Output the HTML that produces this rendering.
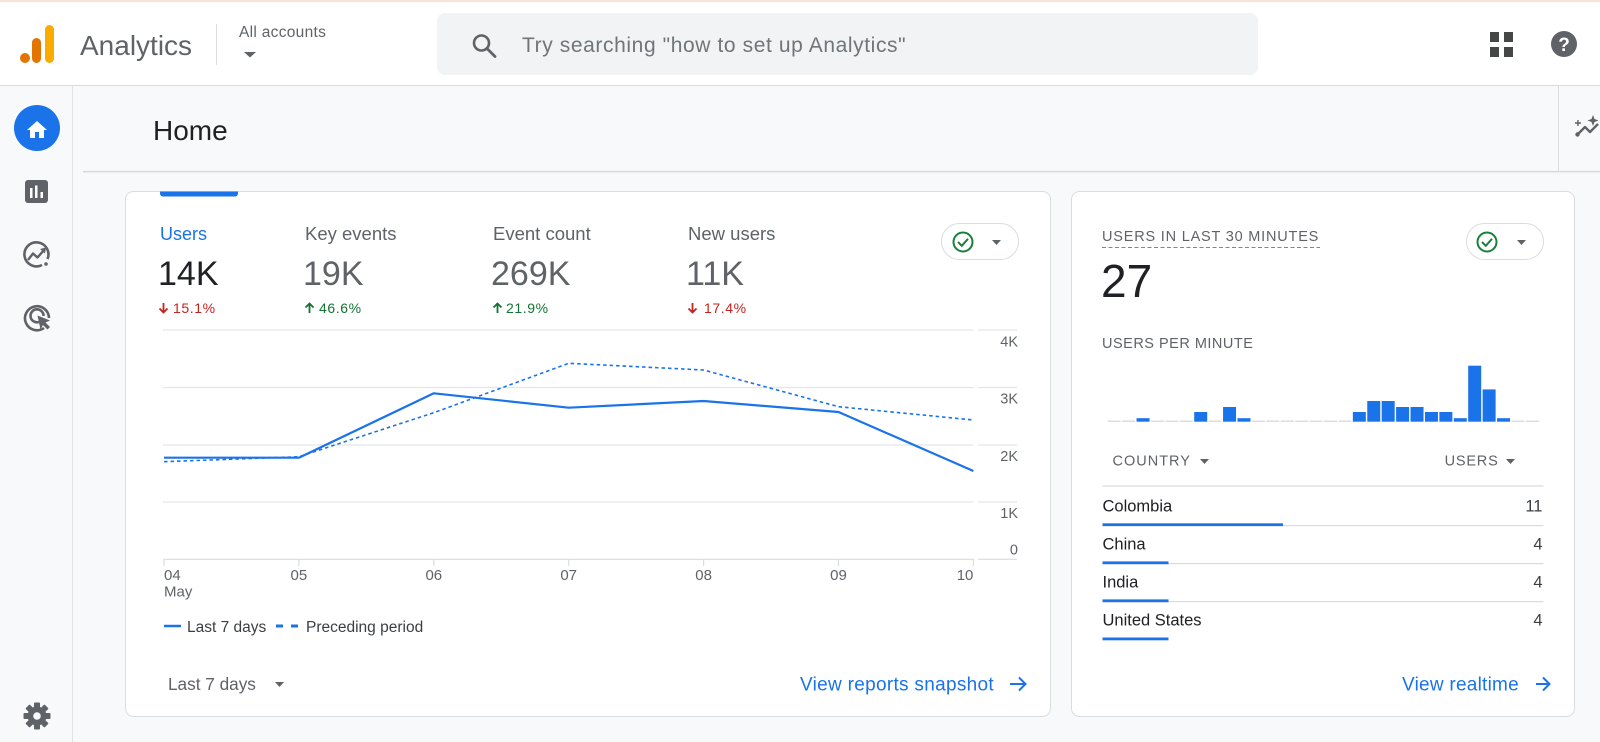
<!DOCTYPE html>
<html>
<head>
<meta charset="utf-8">
<style>
  html,body{margin:0;padding:0;background:#f8f9fa;}
  body{width:1600px;height:742px;overflow:hidden;position:relative;}
  svg{position:absolute;left:0;top:0;}
  text{font-family:"Liberation Sans", Arial, sans-serif;}
</style>
</head>
<body>
<svg width="1600" height="742" viewBox="0 0 1600 742" xmlns="http://www.w3.org/2000/svg">
  <!-- backgrounds -->
  <rect x="0" y="0" width="1600" height="742" fill="#f8f9fa"/>
  <rect x="0" y="0" width="1600" height="85.5" fill="#ffffff"/>
  <rect x="0" y="0" width="1600" height="2" fill="#fbe3da"/>
  <line x1="0" y1="85.5" x2="1600" y2="85.5" stroke="#dadce0" stroke-width="1"/>

  <!-- logo -->
  <circle cx="25" cy="58" r="5" fill="#e37400"/>
  <rect x="32" y="38" width="9" height="25" rx="4.5" fill="#e37400"/>
  <rect x="45" y="25" width="9" height="38" rx="4.5" fill="#f9ab00"/>
  <text x="80" y="55" font-size="28" fill="#5f6368">Analytics</text>
  <line x1="216.5" y1="24" x2="216.5" y2="65" stroke="#dadce0" stroke-width="1"/>
  <text x="239" y="37" font-size="15.5" fill="#5f6368" letter-spacing="0.3">All accounts</text>
  <polygon points="244,52 256,52 250,57.5" fill="#5f6368"/>

  <!-- search -->
  <rect x="437" y="13" width="821" height="62" rx="8" fill="#f1f3f4"/>
  <circle cx="481.5" cy="43" r="7.5" fill="none" stroke="#5f6368" stroke-width="2.6"/>
  <line x1="487" y1="48.5" x2="495" y2="56.5" stroke="#5f6368" stroke-width="2.8" stroke-linecap="round"/>
  <text x="522" y="52" font-size="21" fill="#70757a" letter-spacing="0.6">Try searching "how to set up Analytics"</text>

  <!-- header right icons -->
  <rect x="1490" y="32" width="9" height="10" fill="#444746"/>
  <rect x="1504" y="32" width="9" height="10" fill="#444746"/>
  <rect x="1490" y="47" width="9" height="10" fill="#444746"/>
  <rect x="1504" y="47" width="9" height="10" fill="#444746"/>
  <circle cx="1564" cy="44" r="13" fill="#5f6368"/>
  <text x="1564" y="51" font-size="19" font-weight="bold" fill="#ffffff" text-anchor="middle">?</text>

  <!-- sidebar -->
  <line x1="72.5" y1="86" x2="72.5" y2="742" stroke="#e0e2e5" stroke-width="1"/>
  <circle cx="37" cy="128" r="23" fill="#1a73e8"/>
  <path transform="translate(25,118)" d="M10 20v-6h4v6h5v-8h3L12 3 2 12h3v8z" fill="#ffffff"/>
  <!-- reports -->
  <rect x="25" y="180" width="23" height="23" rx="3" fill="#5f6368"/>
  <rect x="30" y="188" width="2.5" height="10" fill="#fff"/>
  <rect x="35" y="185.5" width="2.5" height="12.5" fill="#fff"/>
  <rect x="40.5" y="192" width="2.5" height="6" fill="#fff"/>
  <!-- explore -->
  <path d="M47.5 259 A12 12 0 1 0 42 265" fill="none" stroke="#5f6368" stroke-width="2.6"/>
  <circle cx="46" cy="264" r="1.8" fill="#5f6368"/>
  <polyline points="28,260 33,253.5 37.5,257.5 44,250" fill="none" stroke="#5f6368" stroke-width="2.4" stroke-linejoin="round"/>
  <polygon points="40,249 46,247.5 45,253.5" fill="#5f6368"/>
  <!-- advertising -->
  <path d="M44 328 A12 12 0 1 1 49 318" fill="none" stroke="#5f6368" stroke-width="2.6"/>
  <path d="M39 322 A6.5 6.5 0 1 1 43.5 316" fill="none" stroke="#5f6368" stroke-width="2.6"/>
  <polygon points="37.5,315.5 50,320.5 45.5,322.5 50,327 47.5,329.5 43,325 40.5,329.5" fill="#5f6368"/>
  <!-- gear -->
  <g transform="translate(37,716)" fill="#5f6368">
    <circle r="9.5"/>
    <rect x="-3" y="-13.5" width="6" height="6" rx="1"/>
    <rect x="-3" y="-13.5" width="6" height="6" rx="1" transform="rotate(45)"/>
    <rect x="-3" y="-13.5" width="6" height="6" rx="1" transform="rotate(90)"/>
    <rect x="-3" y="-13.5" width="6" height="6" rx="1" transform="rotate(135)"/>
    <rect x="-3" y="-13.5" width="6" height="6" rx="1" transform="rotate(180)"/>
    <rect x="-3" y="-13.5" width="6" height="6" rx="1" transform="rotate(225)"/>
    <rect x="-3" y="-13.5" width="6" height="6" rx="1" transform="rotate(270)"/>
    <rect x="-3" y="-13.5" width="6" height="6" rx="1" transform="rotate(315)"/>
    <circle r="3.8" fill="#f8f9fa"/>
  </g>

  <!-- page header -->
  <text x="153" y="140" font-size="28" fill="#202124">Home</text>
  <line x1="83" y1="171.5" x2="1600" y2="171.5" stroke="#d6d8db" stroke-width="1.2"/>
  <line x1="83" y1="172.7" x2="1600" y2="172.7" stroke="#eceef0" stroke-width="1"/>
  <line x1="1558.5" y1="86" x2="1558.5" y2="171" stroke="#dadce0" stroke-width="1"/>
  <polyline points="1577,135 1585,127 1590,132 1598,124" fill="none" stroke="#5f6368" stroke-width="2.4" stroke-linejoin="round"/>
  <circle cx="1577.5" cy="134.5" r="2.2" fill="#5f6368"/>
  <path d="M1578 120v6M1575 123h6" stroke="#5f6368" stroke-width="1.4"/>
  <path d="M1593 115 L1594.5 119 L1598.5 120.5 L1594.5 122 L1593 126 L1591.5 122 L1587.5 120.5 L1591.5 119Z" fill="#5f6368"/>

  <!-- left card -->
  <rect x="125.5" y="191.5" width="925" height="525" rx="8" fill="#ffffff" stroke="#dadce0" stroke-width="1"/>
  <path d="M160 191.5 H238 V193.5 A3 3 0 0 1 235 196.5 H163 A3 3 0 0 1 160 193.5Z" fill="#1a73e8"/>

  <text x="160" y="240" font-size="18" fill="#1a73e8">Users</text>
  <text x="305" y="240" font-size="18.5" fill="#5f6368">Key events</text>
  <text x="493" y="240" font-size="18.5" fill="#5f6368">Event count</text>
  <text x="688" y="240" font-size="18.5" fill="#5f6368">New users</text>

  <text x="158" y="285" font-size="34" fill="#202124">14K</text>
  <text x="303" y="285" font-size="34" fill="#5f6368">19K</text>
  <text x="491" y="285" font-size="34" fill="#5f6368">269K</text>
  <text x="686" y="285" font-size="34" fill="#5f6368">11K</text>

  <!-- change arrows -->
  <g stroke-width="1.8" fill="none">
    <path d="M163.5 303 V312.5 M159.5 308.5 L163.5 312.5 L167.5 308.5" stroke="#c5221f"/>
    <path d="M309.5 313 V303.5 M305.5 307.5 L309.5 303.5 L313.5 307.5" stroke="#137333"/>
    <path d="M497.5 313 V303.5 M493.5 307.5 L497.5 303.5 L501.5 307.5" stroke="#137333"/>
    <path d="M692.5 303 V312.5 M688.5 308.5 L692.5 312.5 L696.5 308.5" stroke="#c5221f"/>
  </g>
  <text x="173" y="313" font-size="14" fill="#c5221f" letter-spacing="0.6">15.1%</text>
  <text x="319" y="313" font-size="14" fill="#137333" letter-spacing="0.6">46.6%</text>
  <text x="506" y="313" font-size="14" fill="#137333" letter-spacing="0.6">21.9%</text>
  <text x="704" y="313" font-size="14" fill="#c5221f" letter-spacing="0.6">17.4%</text>

  <!-- pill left -->
  <rect x="941.5" y="223.5" width="77" height="36" rx="18" fill="#ffffff" stroke="#dadce0" stroke-width="1"/>
  <circle cx="963" cy="242" r="9.5" fill="none" stroke="#188038" stroke-width="2"/>
  <polyline points="958,242 961.8,245.8 968,238.8" fill="none" stroke="#188038" stroke-width="2"/>
  <polygon points="992,240 1001,240 996.5,245" fill="#5f6368"/>

  <!-- chart gridlines -->
  <g stroke="#e3e5e8" stroke-width="1.2">
    <line x1="163" y1="330" x2="973.5" y2="330"/>
    <line x1="978" y1="330" x2="1017" y2="330"/>
    <line x1="163" y1="387.5" x2="973.5" y2="387.5"/>
    <line x1="978" y1="387.5" x2="1017" y2="387.5"/>
    <line x1="163" y1="445" x2="973.5" y2="445"/>
    <line x1="978" y1="445" x2="1017" y2="445"/>
    <line x1="163" y1="502" x2="973.5" y2="502"/>
    <line x1="978" y1="502" x2="1017" y2="502"/>
  </g>
  <g stroke="#dadce0" stroke-width="1.2">
    <line x1="163" y1="559.3" x2="973.5" y2="559.3"/>
    <line x1="978" y1="559.3" x2="1017" y2="559.3"/>
    <line x1="164" y1="559" x2="164" y2="566"/>
    <line x1="298.9" y1="559" x2="298.9" y2="566"/>
    <line x1="433.8" y1="559" x2="433.8" y2="566"/>
    <line x1="568.7" y1="559" x2="568.7" y2="566"/>
    <line x1="703.6" y1="559" x2="703.6" y2="566"/>
    <line x1="838.5" y1="559" x2="838.5" y2="566"/>
    <line x1="973.4" y1="559" x2="973.4" y2="566"/>
  </g>

  <!-- y labels -->
  <g font-size="14.5" fill="#5f6368" text-anchor="end">
    <text x="1018" y="346.3">4K</text>
    <text x="1018" y="403.3">3K</text>
    <text x="1018" y="461">2K</text>
    <text x="1018" y="518">1K</text>
    <text x="1018" y="554.6">0</text>
  </g>
  <!-- x labels -->
  <g font-size="15" fill="#5f6368">
    <text x="164" y="580">04</text>
    <text x="164" y="596.5">May</text>
    <text x="298.9" y="580" text-anchor="middle">05</text>
    <text x="433.8" y="580" text-anchor="middle">06</text>
    <text x="568.7" y="580" text-anchor="middle">07</text>
    <text x="703.6" y="580" text-anchor="middle">08</text>
    <text x="838.5" y="580" text-anchor="middle">09</text>
    <text x="973.4" y="580" text-anchor="end">10</text>
  </g>

  <!-- series -->
  <polyline points="164,461.7 298.9,456.7 433.8,412.7 568.7,363.3 703.6,370 838.5,406.7 973.4,420" fill="none" stroke="#1a73e8" stroke-width="1.6" stroke-dasharray="3.5 3"/>
  <polyline points="164,457.7 298.9,457.7 433.8,393.3 568.7,407.7 703.6,401 838.5,412 973.4,471" fill="none" stroke="#1a73e8" stroke-width="2.2" stroke-linejoin="round"/>

  <!-- legend -->
  <line x1="164" y1="626" x2="181" y2="626" stroke="#1a73e8" stroke-width="2.6"/>
  <text x="187" y="632" font-size="15.5" fill="#3c4043">Last 7 days</text>
  <rect x="276" y="624.5" width="7" height="3" fill="#1a73e8"/>
  <rect x="291" y="624.5" width="7" height="3" fill="#1a73e8"/>
  <text x="306" y="632" font-size="15.5" fill="#3c4043">Preceding period</text>

  <!-- bottom left -->
  <text x="168" y="690" font-size="17.2" fill="#5f6368">Last 7 days</text>
  <polygon points="275,682 284,682 279.5,687" fill="#5f6368"/>
  <text x="800" y="690.5" font-size="19" fill="#1a73e8" letter-spacing="0.3">View reports snapshot</text>
  <path d="M1010 684 H1025 M1019 677.5 L1025.5 684 L1019 690.5" fill="none" stroke="#1a73e8" stroke-width="2"/>

  <!-- right card -->
  <rect x="1071.5" y="191.5" width="503" height="525" rx="8" fill="#ffffff" stroke="#dadce0" stroke-width="1"/>
  <text x="1102" y="241" font-size="14.5" fill="#5f6368" letter-spacing="0.8">USERS IN LAST 30 MINUTES</text>
  <line x1="1102" y1="247.5" x2="1320" y2="247.5" stroke="#80868b" stroke-width="1" stroke-dasharray="4 2.5"/>
  <text x="1101" y="297" font-size="46" fill="#202124">27</text>

  <rect x="1466.5" y="223.5" width="77" height="36" rx="18" fill="#ffffff" stroke="#dadce0" stroke-width="1"/>
  <circle cx="1487" cy="242" r="9.5" fill="none" stroke="#188038" stroke-width="2"/>
  <polyline points="1482,242 1485.8,245.8 1492,238.8" fill="none" stroke="#188038" stroke-width="2"/>
  <polygon points="1517,240 1526,240 1521.5,245" fill="#5f6368"/>

  <text x="1102" y="348" font-size="14.5" fill="#5f6368" letter-spacing="0.5">USERS PER MINUTE</text>

  <!-- per-minute bars -->
  <g fill="#dadce0">
    <rect x="1107.7" y="420.5" width="13" height="1.5"/>
    <rect x="1122.1" y="420.5" width="13" height="1.5"/>
    <rect x="1150.96" y="420.5" width="13" height="1.5"/>
    <rect x="1165.38" y="420.5" width="13" height="1.5"/>
    <rect x="1179.8" y="420.5" width="13" height="1.5"/>
    <rect x="1208.64" y="420.5" width="13" height="1.5"/>
    <rect x="1251.9" y="420.5" width="13" height="1.5"/>
    <rect x="1266.32" y="420.5" width="13" height="1.5"/>
    <rect x="1280.74" y="420.5" width="13" height="1.5"/>
    <rect x="1295.16" y="420.5" width="13" height="1.5"/>
    <rect x="1309.58" y="420.5" width="13" height="1.5"/>
    <rect x="1324" y="420.5" width="13" height="1.5"/>
    <rect x="1338.42" y="420.5" width="13" height="1.5"/>
    <rect x="1511.46" y="420.5" width="13" height="1.5"/>
    <rect x="1525.88" y="420.5" width="13" height="1.5"/>
  </g>
  <g fill="#1a73e8">
    <rect x="1136.54" y="418.2" width="13" height="3.5"/>
    <rect x="1194.22" y="412" width="13" height="9.7"/>
    <rect x="1223.06" y="407" width="13" height="14.7"/>
    <rect x="1237.48" y="418.2" width="13" height="3.5"/>
    <rect x="1352.84" y="412" width="13" height="9.7"/>
    <rect x="1367.26" y="401" width="13" height="20.7"/>
    <rect x="1381.68" y="401" width="13" height="20.7"/>
    <rect x="1396.1" y="407" width="13" height="14.7"/>
    <rect x="1410.52" y="407" width="13" height="14.7"/>
    <rect x="1424.94" y="412" width="13" height="9.7"/>
    <rect x="1439.36" y="412" width="13" height="9.7"/>
    <rect x="1453.78" y="418.2" width="13" height="3.5"/>
    <rect x="1468.2" y="365.7" width="13" height="56"/>
    <rect x="1482.62" y="389.4" width="13" height="32.3"/>
    <rect x="1497.04" y="418.2" width="13" height="3.5"/>
  </g>

  <!-- table -->
  <text x="1112.5" y="465.3" font-size="14.5" fill="#5f6368" letter-spacing="1">COUNTRY</text>
  <polygon points="1200,459 1209,459 1204.5,464" fill="#5f6368"/>
  <text x="1444.6" y="465.3" font-size="14.5" fill="#5f6368" letter-spacing="0.8">USERS</text>
  <polygon points="1506,459 1515,459 1510.5,464" fill="#5f6368"/>
  <line x1="1102.5" y1="486" x2="1543.5" y2="486" stroke="#dadce0" stroke-width="1.2"/>

  <g font-size="16.5" fill="#202124">
    <text x="1102.5" y="511.7">Colombia</text>
    <text x="1102.5" y="549.3">China</text>
    <text x="1102.5" y="587.7">India</text>
    <text x="1102.5" y="625.7">United States</text>
  </g>
  <g font-size="16.5" fill="#3c4043" text-anchor="end">
    <text x="1542.5" y="511.7">11</text>
    <text x="1542.5" y="549.3">4</text>
    <text x="1542.5" y="587.7">4</text>
    <text x="1542.5" y="625.7">4</text>
  </g>
  <g fill="#dadce0">
    <rect x="1102.5" y="525" width="441" height="1.2"/>
    <rect x="1102.5" y="563" width="441" height="1.2"/>
    <rect x="1102.5" y="601" width="441" height="1.2"/>
  </g>
  <g fill="#1a73e8">
    <rect x="1102.5" y="523.3" width="180.5" height="2.8"/>
    <rect x="1102.5" y="561.4" width="66" height="2.8"/>
    <rect x="1102.5" y="599.4" width="66" height="2.8"/>
    <rect x="1102.5" y="637.5" width="66" height="2.8"/>
  </g>

  <text x="1402" y="690.5" font-size="19" fill="#1a73e8" letter-spacing="0.25">View realtime</text>
  <path d="M1536 684 H1549 M1543 677.5 L1549.5 684 L1543 690.5" fill="none" stroke="#1a73e8" stroke-width="2"/>
</svg>
</body>
</html>
